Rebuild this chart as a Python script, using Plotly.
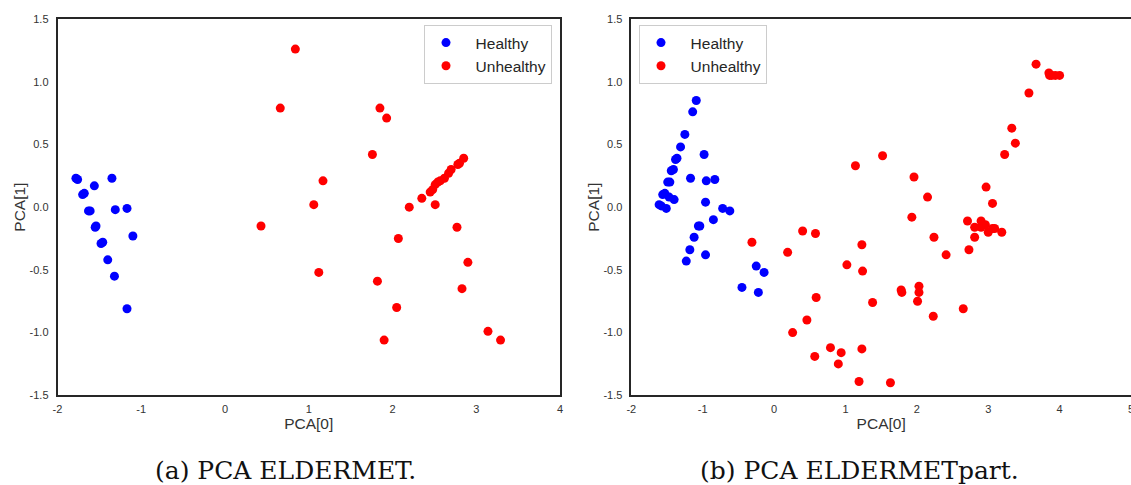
import plotly.graph_objects as go

# ---- ELDERMET (left panel) ----
a_healthy_x = [-1.78, -1.76, -1.70, -1.68, -1.56, -1.35, -1.63, -1.61, -1.31, -1.17,
               -1.55, -1.54, -1.10, -1.48, -1.46, -1.40, -1.32, -1.17]
a_healthy_y = [0.23, 0.22, 0.10, 0.11, 0.17, 0.23, -0.03, -0.03, -0.02, -0.01,
               -0.16, -0.15, -0.23, -0.29, -0.28, -0.42, -0.55, -0.81]
a_unhealthy_x = [0.84, 0.66, 0.43, 1.85, 1.93, 1.76, 1.17, 1.06, 2.20, 2.35, 2.51,
                 2.45, 2.48, 2.51, 2.54, 2.57, 2.62, 2.67, 2.70, 2.78, 2.80, 2.85,
                 2.77, 2.07, 1.12, 2.90, 1.82, 2.83, 2.05, 1.90, 3.14, 3.29]
a_unhealthy_y = [1.26, 0.79, -0.15, 0.79, 0.71, 0.42, 0.21, 0.02, 0.00, 0.07, 0.02,
                 0.12, 0.14, 0.18, 0.20, 0.21, 0.23, 0.27, 0.30, 0.34, 0.35, 0.39,
                 -0.16, -0.25, -0.52, -0.44, -0.59, -0.65, -0.80, -1.06, -0.99, -1.06]

# ---- ELDERMETpart (right panel) ----
b_healthy_x = [-1.09, -1.14, -1.25, -1.31, -1.36, -1.38, -1.41, -1.44, -1.46, -1.49,
               -1.53, -1.56, -1.47, -1.40, -1.61, -1.58, -1.51, -1.17, -0.98, -0.95,
               -0.83, -0.96, -0.72, -0.62, -0.85, -1.06, -1.04, -1.12, -1.18, -1.23,
               -0.96, -0.25, -0.14, -0.45, -0.22]
b_healthy_y = [0.85, 0.76, 0.58, 0.48, 0.39, 0.38, 0.30, 0.29, 0.20, 0.20,
               0.11, 0.10, 0.08, 0.06, 0.02, 0.01, -0.01, 0.23, 0.42, 0.21,
               0.22, 0.04, -0.01, -0.03, -0.10, -0.15, -0.15, -0.24, -0.34, -0.43,
               -0.38, -0.47, -0.52, -0.64, -0.68]
b_unhealthy_x = [-0.31, 0.19, 0.40, 0.58, 1.02, 0.59, 0.46, 0.26, 0.79, 0.94, 0.57,
                 0.90, 1.14, 1.52, 1.96, 2.15, 1.93, 2.24, 1.23, 2.71, 2.90, 2.81,
                 2.90, 2.96, 3.00, 3.06, 3.09, 3.19, 2.81, 2.73, 2.97, 3.06, 3.23,
                 3.38, 3.33, 3.57, 3.67, 3.85, 3.86, 3.89, 3.94, 4.00, 2.41, 2.65,
                 1.24, 2.03, 2.03, 2.01, 1.78, 1.79, 1.38, 2.23, 1.23, 1.19, 1.63]
b_unhealthy_y = [-0.28, -0.36, -0.19, -0.21, -0.46, -0.72, -0.90, -1.00, -1.12, -1.16, -1.19,
                 -1.25, 0.33, 0.41, 0.24, 0.08, -0.08, -0.24, -0.30, -0.11, -0.11, -0.16,
                 -0.16, -0.14, -0.20, -0.17, -0.17, -0.20, -0.24, -0.34, 0.16, 0.03, 0.42,
                 0.51, 0.63, 0.91, 1.14, 1.07, 1.05, 1.05, 1.05, 1.05, -0.38, -0.81,
                 -0.51, -0.63, -0.68, -0.75, -0.66, -0.68, -0.76, -0.87, -1.13, -1.39, -1.40]

y_tickvals = [-1.5, -1.0, -0.5, 0.0, 0.5, 1.0, 1.5]
y_ticktext = ["-1.5", "-1.0", "-0.5", "0.0", "0.5", "1.0", "1.5"]
a_x_tickvals = [-2, -1, 0, 1, 2, 3, 4]
b_x_tickvals = [-2, -1, 0, 1, 2, 3, 4, 5]

class_names = ["Healthy", "Unhealthy"]
captions = ["(a) PCA ELDERMET.", "(b) PCA ELDERMETpart."]

W, H = 1131, 485
BLUE, RED = "#0000ff", "#ff0000"
AXIS_COLOR = "#262626"
SANS = "Liberation Sans, Arial, sans-serif"
NBSP = "\u00a0"

fig = go.Figure()


def add_pair(hx, hy, ux, uy, xa, ya, legend):
    # a little non-breaking padding widens the gap between symbol and label
    fig.add_trace(go.Scatter(x=hx, y=hy, mode="markers", name=NBSP * 2 + class_names[0],
                             marker=dict(color=BLUE, size=9),
                             xaxis=xa, yaxis=ya, legend=legend))
    fig.add_trace(go.Scatter(x=ux, y=uy, mode="markers", name=NBSP * 2 + class_names[1],
                             marker=dict(color=RED, size=9),
                             xaxis=xa, yaxis=ya, legend=legend))


add_pair(a_healthy_x, a_healthy_y, a_unhealthy_x, a_unhealthy_y, "x", "y", "legend")
add_pair(b_healthy_x, b_healthy_y, b_unhealthy_x, b_unhealthy_y, "x2", "y2", "legend2")

y_dom = [1 - 395.3 / H, 1 - 19 / H]


def xaxis(domain, rng, vals, anchor, mirror):
    return dict(domain=domain, range=rng, anchor=anchor,
                tickvals=vals, ticktext=[str(v) for v in vals],
                showgrid=False, zeroline=False,
                showline=True, linecolor=AXIS_COLOR, linewidth=1.5, mirror=mirror,
                ticks="", ticklabelstandoff=3, ticklabeloverflow="allow",
                automargin=False,
                tickfont=dict(family=SANS, size=11, color="#333333"),
                title=dict(text="PCA[0]", standoff=4,
                           font=dict(family=SANS, size=15.5, color="#333333")))


def yaxis(anchor, mirror):
    return dict(domain=y_dom, range=[-1.5, 1.5], anchor=anchor,
                tickvals=y_tickvals, ticktext=y_ticktext,
                showgrid=False, zeroline=False,
                showline=True, linecolor=AXIS_COLOR, linewidth=1.5, mirror=mirror,
                ticks="", ticklabelstandoff=5, ticklabeloverflow="allow",
                automargin=False,
                tickfont=dict(family=SANS, size=11, color="#333333"),
                title=dict(text="PCA[1]", standoff=0,
                           font=dict(family=SANS, size=15.5, color="#333333")))


legend_style = dict(bgcolor="white", bordercolor="#cccccc", borderwidth=1,
                    itemwidth=32,
                    font=dict(family=SANS, size=15.5, color="#262626"),
                    xanchor="left", yanchor="top", y=1 - 25 / H)

fig.update_layout(
    width=W, height=H,
    margin=dict(l=0, r=0, t=0, b=0, pad=0, autoexpand=False),
    paper_bgcolor="white", plot_bgcolor="white",
    xaxis=xaxis([57.5 / W, 560 / W], [-2, 4], a_x_tickvals, "y", True),
    yaxis=yaxis("x", True),
    xaxis2=xaxis([631.3 / W, 1.0], [-2, 5], b_x_tickvals, "y2", True),
    yaxis2=yaxis("x2", False),
    legend=dict(x=424 / W, **legend_style),
    legend2=dict(x=639 / W, **legend_style),
    annotations=[
        dict(text=captions[0], x=285 / W, y=1 - 470 / H, xref="paper", yref="paper",
             showarrow=False, xanchor="center", yanchor="middle",
             font=dict(family="DejaVu Serif, serif", size=25, color="#111111")),
        dict(text=captions[1], x=859 / W, y=1 - 470 / H, xref="paper", yref="paper",
             showarrow=False, xanchor="center", yanchor="middle",
             font=dict(family="DejaVu Serif, serif", size=25, color="#111111")),
    ],
)

fig.write_html("out.html")
